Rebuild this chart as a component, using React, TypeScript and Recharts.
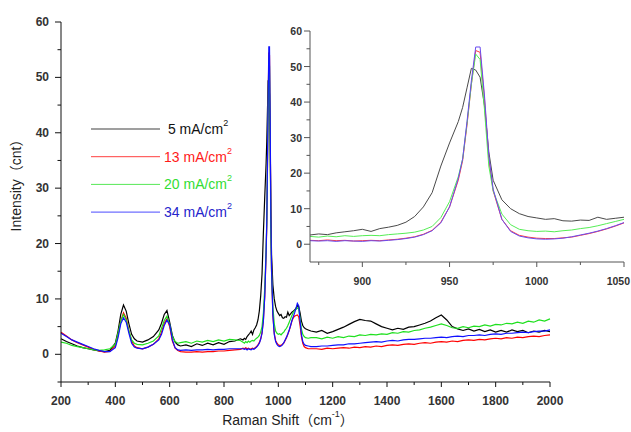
import { Line, LineChart, XAxis, YAxis } from "recharts";

// Raman shift (cm-1); denser around the 962 cm-1 phosphate band
const shift = [
  200, 220, 240, 260, 280, 300, 320, 340, 360, 380,
  400, 410, 420, 430, 440, 450, 460, 470, 480, 500,
  520, 540, 560, 570, 580, 590, 600, 610, 620, 630,
  640, 660, 680, 700, 720, 740, 760, 780, 800, 820,
  840, 860,
  870, 875, 880, 885, 890, 895, 900, 905, 910, 915,
  920, 925, 930, 935, 940, 945, 950, 955, 957.5, 960,
  962.5, 965, 967.5, 970, 972.5, 975, 980, 985, 990, 995,
  1000, 1005, 1010, 1015, 1020, 1025, 1030, 1035, 1040, 1045,
  1050,
  1055, 1060, 1065, 1070, 1075, 1080, 1085, 1090, 1095, 1100, 1110, 1120,
  1140, 1160, 1180, 1200, 1220, 1240, 1260, 1280, 1300, 1320,
  1340, 1360, 1380, 1400, 1420, 1440, 1460, 1480, 1500, 1520,
  1540, 1560, 1580, 1600, 1620, 1640, 1660, 1680, 1700, 1720,
  1740, 1760, 1780, 1800, 1820, 1840, 1860, 1880, 1900, 1920,
  1940, 1960, 1980, 2000,
];

const i5 = [
  2.8, 2.3, 1.9, 1.5, 1.2, 1.0, 0.8, 0.6, 0.5, 0.7,
  2.0, 4.2, 7.2, 8.9, 7.8, 5.5, 3.6, 2.8, 2.4, 2.2,
  2.6, 3.2, 4.4, 5.6, 7.2, 7.9, 5.8, 3.4, 2.2, 1.7,
  1.5, 1.7, 1.4, 1.9, 1.6, 2.0, 1.7, 2.1, 1.8, 2.3,
  2.4, 2.8,
  2.6, 2.9, 2.7, 3.2, 3.5, 3.8, 4.2, 3.6, 4.4, 4.8,
  5.3, 6.2, 7.8, 10.5, 14.5, 22, 28.5, 34.5, 38.5, 44,
  49.5, 49, 47, 39, 26, 18, 12.5, 10, 8.6, 7.8,
  7.4, 7.0, 7.2, 6.6, 6.5, 6.8, 6.7, 7.6, 7.0, 7.3,
  7.6,
  7.8, 8.0, 8.3, 8.8, 8.6, 7.5, 6.0, 5.2, 4.8, 4.6, 4.4, 4.2,
  4.0, 4.3, 3.8, 4.1, 4.5, 4.9, 5.4, 5.9, 6.3, 6.1,
  6.0, 5.5, 5.0, 4.7, 4.4, 4.7, 4.5, 4.9, 5.0, 5.3,
  5.6, 6.0, 6.6, 7.1, 6.2, 5.0, 4.6, 4.3, 4.6, 4.2,
  4.5, 4.1, 4.4, 4.0, 4.3, 4.0, 4.4, 4.1, 4.3, 3.9,
  4.2, 4.0, 4.3, 4.1,
];

const i13 = [
  4.0, 3.3, 2.6, 2.1, 1.7, 1.3, 0.9, 0.6, 0.4, 0.5,
  1.5, 3.5, 6.0, 7.5, 6.5, 4.2, 2.4, 1.5, 1.2, 1.0,
  1.3, 1.8, 2.8, 4.0, 5.6, 6.4, 5.0, 2.4, 1.1, 0.7,
  0.5, 0.4, 0.4, 0.5, 0.4, 0.5, 0.5, 0.6, 0.6, 0.7,
  0.8, 0.9,
  1.1, 1.0, 1.2, 1.0, 1.1, 0.9, 1.0, 1.1, 1.0, 1.2,
  1.4, 1.7, 2.1, 2.8, 3.9, 6.2, 10.5, 18, 23.5, 33.5,
  45, 54.5, 54, 41, 24, 15, 7, 3.8, 2.5, 2.0,
  1.7, 1.6, 1.6, 1.8, 2.0, 2.5, 3.0, 3.6, 4.3, 5.1,
  6.0,
  6.6, 6.9, 7.0, 7.1, 6.8, 5.2, 3.2, 2.0, 1.4, 1.2, 1.0, 1.0,
  1.0, 0.9, 1.1, 1.0, 1.1, 1.2, 1.1, 1.3, 1.2, 1.4,
  1.3, 1.5, 1.4, 1.6, 1.7, 1.6, 1.8, 1.9, 1.8, 2.0,
  2.1, 2.0, 2.2, 2.3, 2.2, 2.4, 2.3, 2.5, 2.6, 2.5,
  2.7, 2.6, 2.8, 2.9, 2.8, 3.0, 2.9, 3.1, 3.0, 3.2,
  3.3, 3.2, 3.4, 3.5,
];

const i20 = [
  2.2, 2.0, 1.6, 1.4, 1.2, 1.0, 0.8, 0.7, 0.8, 1.0,
  1.8, 3.8, 6.0, 7.2, 6.2, 4.2, 2.6, 2.0, 1.8, 1.7,
  2.0, 2.4, 3.3, 4.7, 6.1, 6.9, 5.4, 3.2, 2.3, 2.0,
  2.1, 2.3, 2.0, 2.4, 2.2, 2.5, 2.3, 2.6, 2.4, 2.7,
  2.6, 2.5,
  2.2, 2.0, 2.3, 2.1, 2.4, 2.2, 2.4, 2.5, 2.4, 2.7,
  2.9, 3.1, 3.4, 4.0, 5.0, 7.5, 12, 19, 24, 34,
  45, 53.5, 52, 38, 22, 15, 8.5, 5.5, 4.2, 3.8,
  3.6, 3.7, 3.5, 3.8, 4.0, 4.4, 4.7, 5.2, 5.8, 6.4,
  7.0,
  7.6, 7.9, 8.1, 8.4, 8.2, 6.5, 4.6, 3.6, 3.2, 3.0, 2.9, 3.0,
  3.0, 2.8, 3.1, 2.9, 3.2, 3.0, 3.3, 3.2, 3.5, 3.4,
  3.6, 3.5, 3.7, 3.6, 3.9, 3.8, 4.1, 4.0, 4.3, 4.4,
  4.7, 4.9, 5.2, 5.5, 5.2, 4.8, 4.7, 5.0, 4.8, 5.1,
  5.0, 5.3, 5.1, 5.4, 5.3, 5.6, 5.5, 5.8, 5.6, 6.0,
  5.8, 6.2, 6.0, 6.4,
];

const i34 = [
  3.8, 3.2, 2.6, 2.2, 1.8, 1.4, 1.0, 0.7, 0.5, 0.5,
  1.2, 3.0, 5.5, 6.6, 5.8, 3.8, 2.0, 1.3, 1.1, 1.0,
  1.3, 1.8, 2.6, 3.6, 5.2, 6.2, 5.4, 2.6, 1.2, 0.8,
  0.7, 0.8, 0.7, 0.8, 0.8, 0.9, 0.8, 0.9, 0.9, 1.0,
  1.0, 1.0,
  1.0, 0.9, 1.0, 0.8, 1.0, 0.9, 0.8, 1.0, 0.9, 1.1,
  1.3, 1.6, 2.0, 2.7, 3.8, 6.0, 10.5, 18.5, 24, 34.5,
  46, 55.5, 55.5, 42, 25, 15.5, 7, 3.6, 2.3, 1.8,
  1.5, 1.4, 1.5, 1.7, 2.1, 2.6, 3.1, 3.7, 4.4, 5.2,
  6.1,
  6.8, 7.5, 8.3, 9.2, 8.8, 6.0, 3.6, 2.3, 1.8, 1.6, 1.5, 1.4,
  1.4, 1.5, 1.5, 1.6, 1.7, 1.7, 1.9, 1.9, 2.0, 2.1,
  2.2, 2.3, 2.2, 2.4, 2.5, 2.4, 2.6, 2.7, 2.7, 2.8,
  2.9, 2.9, 3.0, 3.1, 3.0, 3.2, 3.3, 3.2, 3.4, 3.4,
  3.5, 3.4, 3.6, 3.7, 3.6, 3.8, 3.8, 3.9, 4.0, 3.9,
  4.1, 4.2, 4.2, 4.4,
];

const mainXTicks = [200, 300, 400, 500, 600, 700, 800, 900, 1000, 1100, 1200, 1300, 1400, 1500, 1600, 1700, 1800, 1900, 2000];
const mainYTicks = [-5, 0, 5, 10, 15, 20, 25, 30, 35, 40, 45, 50, 55, 60];
const insetXTicks = [875, 900, 925, 950, 975, 1000, 1025, 1050];
const insetYTicks = [0, 5, 10, 15, 20, 25, 30, 35, 40, 45, 50, 55, 60];

const FONT = "Arial, 'Liberation Sans', 'Noto Sans CJK SC', sans-serif";

const series = [
  { key: "c5", label: "5", color: "#000000", inset: "#4a4a4a", text: "#111111" },
  { key: "c13", label: "13", color: "#ff0000", inset: "#ff3b3b", text: "#ff1a1a" },
  { key: "c20", label: "20", color: "#1fe01f", inset: "#55ee55", text: "#33dd33" },
  { key: "c34", label: "34", color: "#1010ff", inset: "#6a4cf0", text: "#2525cc" },
];

const rows = shift.map((s, i) => ({ shift: s, c5: i5[i], c13: i13[i], c20: i20[i], c34: i34[i] }));
const insetRows = rows.filter((r) => r.shift >= 865 && r.shift <= 1055);

function XTick(props: any) {
  const { x, y, payload, majorEvery, color, fontSize, labelGap, lastValue } = props;
  const major = payload.value % majorEvery === 0;
  // keep the last inset label inside the page edge
  const atEdge = lastValue !== undefined && payload.value === lastValue;
  return (
    <g>
      <line x1={x} y1={y} x2={x} y2={y + (major ? 5 : 3)} stroke={color} />
      {major ? (
        <text
          x={atEdge ? x + 6 : x}
          y={y + labelGap}
          textAnchor={atEdge ? "end" : "middle"}
          dominantBaseline="central"
          fontFamily={FONT}
          fontSize={fontSize}
          fontWeight={700}
          fill="#333"
        >
          {payload.value}
        </text>
      ) : null}
    </g>
  );
}

function YTick(props: any) {
  const { x, y, payload, majorEvery, color, fontSize, labelGap } = props;
  const major = payload.value % majorEvery === 0;
  return (
    <g>
      <line x1={x} y1={y} x2={x - (major ? 6 : 3.5)} y2={y} stroke={color} />
      {major ? (
        <text x={x - labelGap} y={y} textAnchor="end" dominantBaseline="central" fontFamily={FONT} fontSize={fontSize} fontWeight={700} fill="#333">
          {payload.value}
        </text>
      ) : null}
    </g>
  );
}

export default function App() {
  return (
    <div style={{ position: "absolute", left: 0, top: 0, width: 631, height: 432, background: "#fff" }}>
      <div style={{ position: "absolute", left: 0, top: 0 }}>
        <LineChart width={631} height={432} data={rows} margin={{ top: 22, right: 81, bottom: 0, left: 0 }}>
          <XAxis
            dataKey="shift"
            type="number"
            domain={[200, 2000]}
            ticks={mainXTicks}
            interval={0}
            height={50}
            tickSize={0}
            tickMargin={0}
            tickLine={false}
            axisLine={{ stroke: "#111" }}
            tick={(p: any) => <XTick {...p} majorEvery={200} color="#111" fontSize={12} labelGap={19} />}
          />
          <YAxis
            type="number"
            domain={[-5, 60]}
            ticks={mainYTicks}
            interval={0}
            width={61}
            tickSize={0}
            tickMargin={0}
            tickLine={false}
            axisLine={{ stroke: "#111" }}
            tick={(p: any) => <YTick {...p} majorEvery={10} color="#111" fontSize={12} labelGap={12} />}
          />
          {series.map((s) => (
            <Line key={s.key} type="linear" dataKey={s.key} stroke={s.color} strokeWidth={1.2} dot={false} isAnimationActive={false} />
          ))}
        </LineChart>
      </div>

      <div style={{ position: "absolute", left: 0, top: 0, pointerEvents: "none" }}>
        <LineChart width={631} height={432} data={insetRows} margin={{ top: 31, right: 7, bottom: 0, left: 0 }}>
          <XAxis
            dataKey="shift"
            type="number"
            domain={[870, 1050]}
            allowDataOverflow
            ticks={insetXTicks}
            interval={0}
            height={170}
            tickSize={0}
            tickMargin={0}
            tickLine={false}
            axisLine={{ stroke: "#555" }}
            tick={(p: any) => <XTick {...p} majorEvery={50} color="#555" fontSize={10.5} labelGap={19} lastValue={1050} />}
          />
          <YAxis
            type="number"
            domain={[-5, 60]}
            allowDataOverflow
            ticks={insetYTicks}
            interval={0}
            width={310}
            tickSize={0}
            tickMargin={0}
            tickLine={false}
            axisLine={{ stroke: "#555" }}
            tick={(p: any) => <YTick {...p} majorEvery={10} color="#555" fontSize={10.5} labelGap={8} />}
          />
          {series.map((s) => (
            <Line key={s.key} type="linear" dataKey={s.key} stroke={s.inset} strokeWidth={1} dot={false} isAnimationActive={false} />
          ))}
        </LineChart>
      </div>

      <svg width={631} height={432} style={{ position: "absolute", left: 0, top: 0, pointerEvents: "none" }}>
        {series.map((s, i) => {
          const y = 129 + i * 27.7;
          return (
            <g key={s.key}>
              <line x1={91} x2={160} y1={y} y2={y} stroke={s.color} strokeWidth={1} opacity={0.75} />
              <text x={164} y={y} dominantBaseline="central" fontFamily={FONT} fontSize={14} fill={s.text}>
                {s.label.length < 2 ? "\u00a0" : ""}{s.label} mA/cm
                <tspan dy={-6} fontSize={9}>2</tspan>
              </text>
            </g>
          );
        })}
        <text x={16} y={182} transform="rotate(-90 16 182)" textAnchor="middle" dominantBaseline="central" fontFamily={FONT} fontSize={14} fill="#222">
          Intensity（cnt）
        </text>
        <text x={288} y={420} textAnchor="middle" dominantBaseline="central" fontFamily={FONT} fontSize={14} fill="#222">
          Raman Shift（cm<tspan dy={-6} fontSize={9}>-1</tspan><tspan dy={6}>）</tspan>
        </text>
      </svg>
    </div>
  );
}
